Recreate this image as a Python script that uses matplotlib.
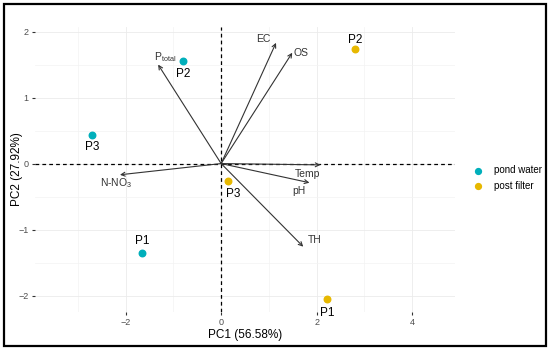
import matplotlib.pyplot as plt
from matplotlib.patches import Rectangle

plt.rcParams["font.family"] = ["Liberation Sans", "DejaVu Sans"]
plt.rcParams["mathtext.fontset"] = "custom"
plt.rcParams["mathtext.rm"] = "Liberation Sans"

# sample scores
groups = ["pond water", "post filter"]
colors = ["#00AFBB", "#E7B800"]
sample_names = ["P1", "P2", "P3"]
pond_x = [-1.66, -0.80, -2.70]
pond_y = [-1.35, 1.56, 0.44]
post_x = [2.22, 2.81, 0.15]
post_y = [-2.06, 1.73, -0.26]

# variable loadings
var_names = ["P$_{\\mathregular{total}}$", "EC", "OS", "Temp", "pH", "TH", "N-NO$_\\mathregular{3}$"]
var_x = [-1.32, 1.15, 1.49, 2.08, 1.85, 1.72, -2.12]
var_y = [1.50, 1.83, 1.68, -0.02, -0.29, -1.26, -0.17]

fig = plt.figure(figsize=(5.5, 3.5), dpi=100)
ax = fig.add_axes([35 / 550, 38 / 350, 420 / 550, 285 / 350])

ax.set_xlim(-3.9, 4.9)
ax.set_ylim(-2.25, 2.07)
ax.set_xticks([-2, 0, 2, 4])
ax.set_yticks([-2, -1, 0, 1, 2])
ax.set_xticks([-3, -1, 1, 3], minor=True)
ax.set_yticks([-1.5, -0.5, 0.5, 1.5], minor=True)
ax.grid(True, which="major", color="#ebebeb", lw=0.6)
ax.grid(True, which="minor", color="#f3f3f3", lw=0.5)
ax.set_axisbelow(True)
for s in ax.spines.values():
    s.set_visible(False)
ax.tick_params(which="major", length=2.5, color="#333333", labelsize=6.5,
               labelcolor="#4d4d4d", pad=2)
ax.tick_params(which="minor", length=0)
ax.set_yticklabels(["\u22122", "\u22121", "0", "1", "2"])
ax.set_xticklabels(["\u22122", "0", "2", "4"])

ax.axhline(0, color="black", ls="--", lw=0.9, dashes=(3, 2.5))
ax.axvline(0, color="black", ls="--", lw=0.9, dashes=(3, 2.5))

# arrows
for xv, yv in zip(var_x, var_y):
    ax.annotate("", xy=(xv, yv), xytext=(0, 0),
                arrowprops=dict(arrowstyle="->", color="#333333", lw=0.8,
                                shrinkA=0, shrinkB=0, mutation_scale=7))
lab_pos = [(-1.17, 1.62), (0.88, 1.89), (1.68, 1.67), (1.82, -0.16),
           (1.62, -0.42), (1.97, -1.16), (-2.2, -0.30)]
for name, (lx, ly) in zip(var_names, lab_pos):
    ax.text(lx, ly, name, fontsize=7.5, color="#333333", ha="center", va="center")

# points
ax.scatter(pond_x, pond_y, s=22, color=colors[0], label=groups[0], zorder=3)
ax.scatter(post_x, post_y, s=22, color=colors[1], label=groups[1], zorder=3)

pond_off = [0.17, -0.2, -0.19]
post_off = [-0.2, 0.15, -0.2]
for n, xx, yy, o in zip(sample_names, pond_x, pond_y, pond_off):
    ax.text(xx, yy + o, n, fontsize=8.5, ha="center", va="center", color="black")
for n, xx, yy, o in zip(sample_names, post_x, post_y, post_off):
    ax.text(xx + (0.1 if n == "P3" else 0), yy + o, n, fontsize=8.5,
            ha="center", va="center", color="black")

ax.set_xlabel("PC1 (56.58%)", fontsize=8.5, labelpad=1)
ax.set_ylabel("PC2 (27.92%)", fontsize=8.5)
ax.yaxis.set_label_coords(-0.028, 0.5)

leg = ax.legend(loc="center left", bbox_to_anchor=(1.02, 0.47), frameon=False,
                fontsize=7, handletextpad=1.0, labelspacing=0.6,
                handlelength=1.2, markerscale=0.9)

fig.patches.append(Rectangle((0.008, 0.012), 0.984, 0.976, transform=fig.transFigure,
                             fill=False, edgecolor="black", lw=1.6))

fig.savefig("out.png", dpi=100)
